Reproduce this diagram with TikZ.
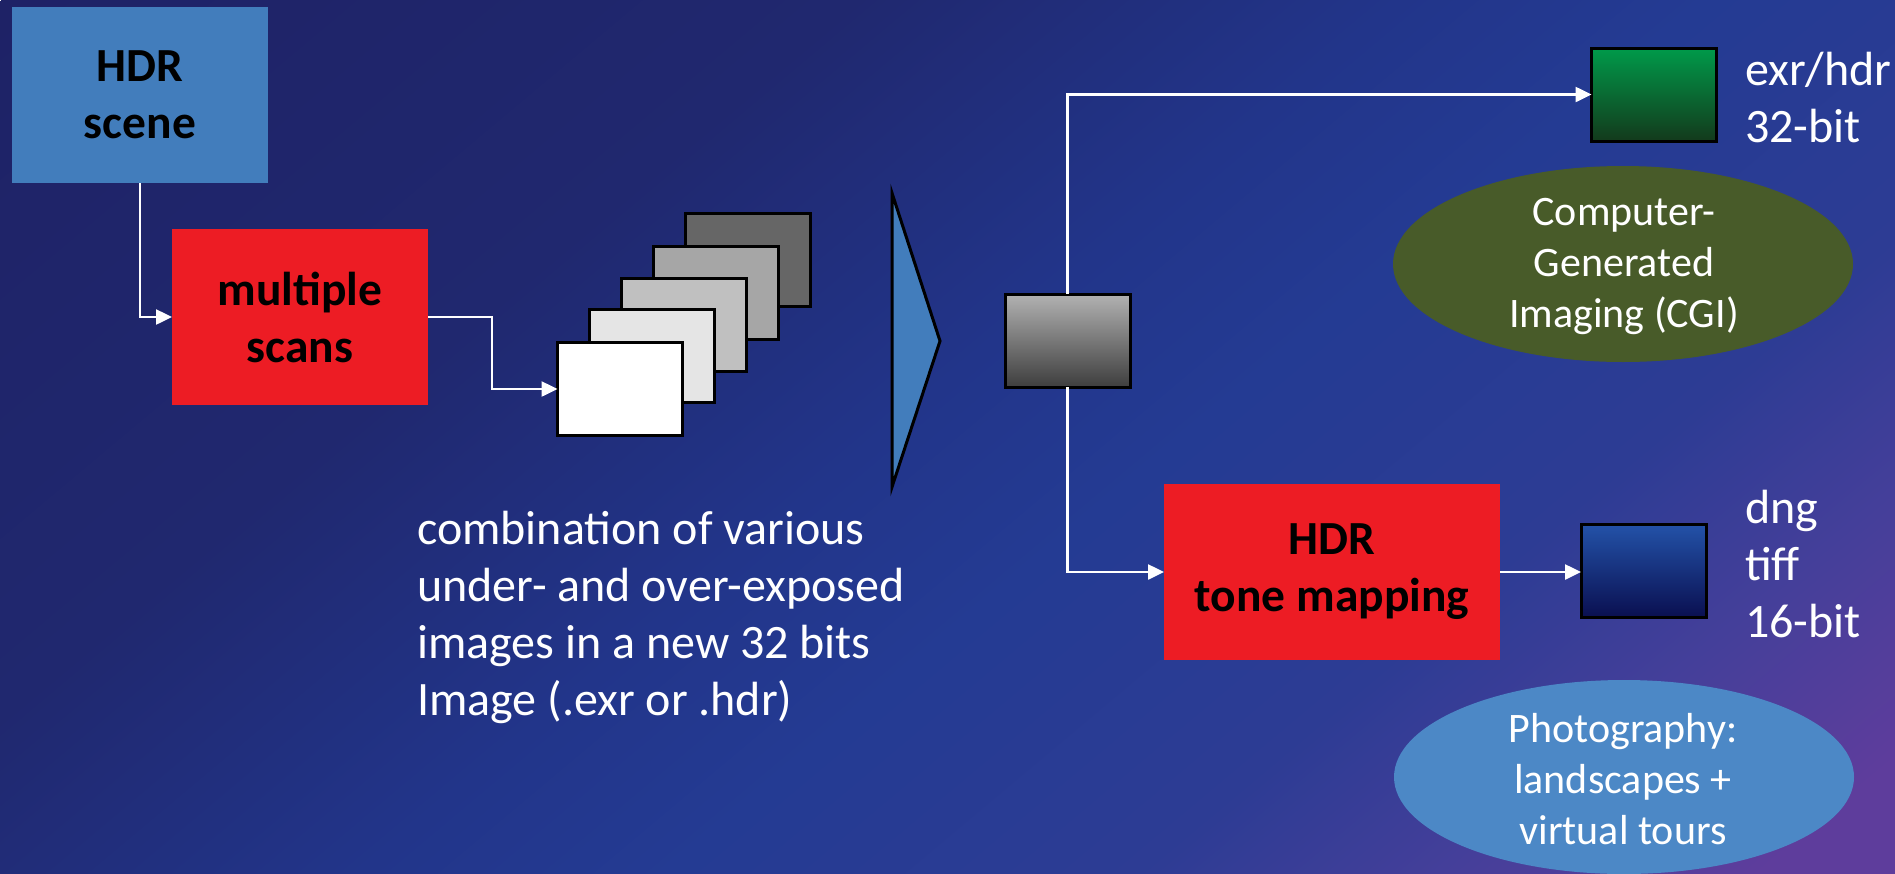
\documentclass[tikz,border=0pt]{standalone}
\usepackage{fontspec}
\setmainfont{Carlito}
\usetikzlibrary{arrows.meta}
\definecolor{bgA}{HTML}{1E2266}
\definecolor{bgB}{HTML}{20286F}
\definecolor{bgC}{HTML}{22358A}
\definecolor{bgD}{HTML}{243B93}
\definecolor{bgE}{HTML}{2D3C94}
\definecolor{bgF}{HTML}{453F9A}
\definecolor{bgG}{HTML}{5E3D9C}
\definecolor{sceneblue}{HTML}{427DBC}
\definecolor{hdrred}{HTML}{ED1C24}
\definecolor{cgigreen}{HTML}{485B29}
\definecolor{photoblue}{HTML}{4C88C6}
\pgfdeclarehorizontalshading{bgshade}{3000pt}{color(0pt)=(bgA); color(550pt)=(bgB); color(900pt)=(bgC); color(1100pt)=(bgD); color(1400pt)=(bgE); color(1600pt)=(bgF); color(1800pt)=(bgG); color(1900pt)=(bgG)}
\begin{document}
\begin{tikzpicture}[x=1pt,y=-1pt,
  conn/.style={draw=white, line width=2.5pt, -{Triangle[length=16pt,width=15pt]}},
  box/.style={inner sep=0pt, outer sep=0pt, font=\fontsize{47.5}{57}\selectfont\bfseries, text=black, align=center},
  img/.style={draw=black, line width=3pt, minimum width=125pt, minimum height=93pt, inner sep=0pt, outer sep=0pt},
  lbl/.style={text=white, font=\fontsize{48}{57}\selectfont, align=left, inner sep=0pt},
  elltext/.style={text=white, font=\fontsize{42}{51}\selectfont, align=center, inner sep=0pt}
]
\useasboundingbox (0,0) rectangle (1895,873);
\begin{scope}
  \clip (0,0) rectangle (1895,873);
  \node[rotate=-50, inner sep=0pt, outer sep=0pt] (bg) at (610.65,727.74) {\pgfuseshading{bgshade}};
\end{scope}

% boxes
\node[box, fill=sceneblue, minimum width=256pt, minimum height=176pt] (scene) at (140,95) {HDR\\scene};
\node[box, fill=hdrred, minimum width=256pt, minimum height=176pt] (scans) at (300,317) {multiple\\scans};

% stack of exposures (back to front)
\node[img, fill={rgb,255:red,102;green,102;blue,102}] (img5) at (748,260) {};
\node[img, fill={rgb,255:red,166;green,166;blue,166}] (img4) at (716,292.5) {};
\node[img, fill={rgb,255:red,192;green,192;blue,192}] (img3) at (684,325) {};
\node[img, fill={rgb,255:red,229;green,229;blue,229}] (img2) at (652,356) {};
\node[img, fill=white] (img1) at (620,389) {};

% merge triangle
\draw[fill=sceneblue, draw=black, line width=3pt, line join=miter] (892,193) -- (940,341) -- (892,487) -- cycle;

% merged HDR image and outputs
\node[img, top color={rgb,255:red,178;green,178;blue,178}, middle color={rgb,255:red,140;green,140;blue,140}, bottom color={rgb,255:red,62;green,62;blue,62}] (merged) at (1067.5,340.5) {};
\node[img, top color={rgb,255:red,0;green,154;blue,74}, middle color={rgb,255:red,10;green,120;blue,58}, bottom color={rgb,255:red,19;green,58;blue,28}] (exr) at (1654,94.5) {};
\node[box, fill=hdrred, minimum width=336pt, minimum height=176pt] (tone) at (1332,572) {HDR\\tone mapping};
\node[img, top color={rgb,255:red,35;green,82;blue,168}, middle color={rgb,255:red,28;green,58;blue,140}, bottom color={rgb,255:red,10;green,15;blue,80}] (tiff) at (1643.5,571) {};

% connectors
\draw[conn] (scene.south) |- (scans.west);
\draw[conn] (scans.east) -- ++(64,0) |- (img1.west);
\draw[conn] (merged.north) |- (exr.west);
\draw[conn] (merged.south) |- (tone.west);
\draw[conn] (tone.east) -- (tone.east -| tiff.west);

% texts
\node[lbl, anchor=base west] (desc) at (417,715) {combination of various\\under- and over-exposed\\images in a new 32 bits\\Image (.exr or .hdr)};
\node[lbl, anchor=base west] (exrlbl) at (1745,142) {exr/hdr\\32-bit};
\node[lbl, anchor=base west] (tifflbl) at (1745,637) {dng\\tiff\\16-bit};

% ellipses
\fill[cgigreen] (1623,264) ellipse [x radius=230pt, y radius=98pt];
\node[elltext] (cgi) at (1624,266) {Computer-\\Generated\\Imaging (CGI)};
\fill[photoblue] (1624,777) ellipse [x radius=230pt, y radius=97pt];
\node[elltext] (photo) at (1623,779) {Photography:\\landscapes +\\virtual tours};
\end{tikzpicture}
\end{document}
